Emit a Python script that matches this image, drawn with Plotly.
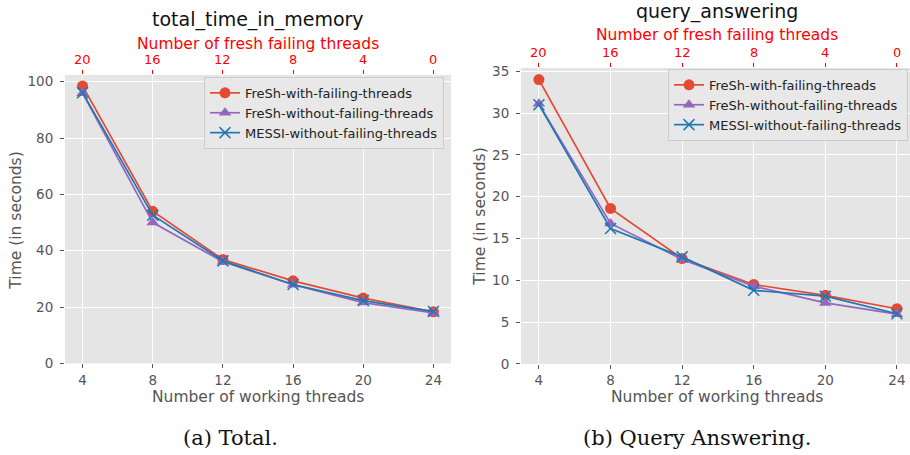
import plotly.graph_objects as go

# Working threads (bottom axis) and fresh failing threads (top axis)
working_threads = [4, 8, 12, 16, 20, 24]
failing_threads = ["20", "16", "12", "8", "4", "0"]

series_names = [
    "FreSh-with-failing-threads",
    "FreSh-without-failing-threads",
    "MESSI-without-failing-threads",
]

# total_time_in_memory (seconds)
total_fresh_failing = [98.5, 54.0, 36.9, 29.3, 23.2, 18.3]
total_fresh_clean = [95.9, 50.0, 36.1, 27.9, 21.6, 17.9]
total_messi_clean = [96.1, 52.6, 36.4, 28.0, 22.3, 18.4]

# query_answering (seconds)
query_fresh_failing = [34.0, 18.6, 12.6, 9.5, 8.2, 6.6]
query_fresh_clean = [31.1, 16.8, 12.5, 9.3, 7.3, 5.95]
query_messi_clean = [31.0, 16.2, 12.8, 8.8, 8.1, 6.0]

COLORS = ["#E24A33", "#9467BD", "#1F77B4"]
SYMBOLS = ["circle", "triangle-up", "x-thin"]
FONT = "DejaVu Sans"
GRAY = "#555555"
RED = "#FF0000"

W, H = 910, 455


def px_x(x):
    return x / W


def px_y(y):
    # vertical layout positions, in pixels from the top
    y = (y - 3) / 0.973
    return 1 - y / H


fig = go.Figure()

panels = [
    dict(series=[total_fresh_failing, total_fresh_clean, total_messi_clean],
         xa="x", ya="y", top="x3", legend="legend", top_label_y=58),
    dict(series=[query_fresh_failing, query_fresh_clean, query_messi_clean],
         xa="x2", ya="y2", top="x4", legend="legend2", top_label_y=51),
]

for p in panels:
    for name, vals, color, sym in zip(series_names, p["series"], COLORS, SYMBOLS):
        marker = dict(symbol=sym, size=11, color=color)
        if sym == "x-thin":
            marker["line"] = dict(color=color, width=1.5)
            marker["size"] = 11
        fig.add_trace(go.Scatter(
            x=working_threads, y=vals, name=name, mode="lines+markers",
            line=dict(color=color, width=1.7), marker=marker,
            xaxis=p["xa"], yaxis=p["ya"], legend=p["legend"],
        ))
    # carrier trace so the top (failing threads) axis is drawn
    fig.add_trace(go.Scatter(
        x=working_threads, y=p["series"][0], mode="markers",
        marker=dict(opacity=0), showlegend=False, hoverinfo="skip",
        xaxis=p["top"], yaxis=p["ya"],
    ))
    # top tick labels: fresh failing threads at each working-thread count
    for pos, lab in zip(working_threads, failing_threads):
        fig.add_annotation(
            x=pos, xref=p["xa"], y=px_y(p["top_label_y"]), yref="paper",
            text=lab, showarrow=False, xanchor="center", yanchor="middle",
            font=dict(family=FONT, size=13, color=RED),
        )

common_x = dict(
    tickvals=working_threads, showgrid=True, gridcolor="white", gridwidth=1,
    zeroline=False, ticks="outside", ticklen=4, tickcolor=GRAY,
    tickfont=dict(family=FONT, size=13.5, color=GRAY), showline=False,
)
common_y = dict(
    showgrid=True, gridcolor="white", gridwidth=1, zeroline=False,
    ticks="outside", ticklen=4, tickcolor=GRAY, ticklabelstandoff=4,
    tickfont=dict(family=FONT, size=13.5, color=GRAY), showline=False,
)
top_x = dict(
    side="top", tickvals=working_threads, showticklabels=False,
    showgrid=False, zeroline=False, ticks="outside", ticklen=4, tickcolor=RED,
    showline=False,
)

left_dom = [px_x(65), px_x(451)]
right_dom = [px_x(521), 1.0]
left_ydom = [px_y(362), px_y(73)]
right_ydom = [px_y(362.5), px_y(66)]

fig.update_layout(
    width=W, height=H, autosize=False, margin=dict(l=0, r=0, t=0, b=0),
    paper_bgcolor="white", plot_bgcolor="#E5E5E5",
    font=dict(family=FONT, color=GRAY),
    xaxis=dict(domain=left_dom, anchor="y", range=[3, 25], **common_x),
    yaxis=dict(domain=left_ydom, anchor="x", range=[0, 102.4],
               tickvals=[0, 20, 40, 60, 80, 100], **common_y),
    xaxis2=dict(domain=right_dom, anchor="y2", range=[3, 24.73], **common_x),
    yaxis2=dict(domain=right_ydom, anchor="x2", range=[0, 35.4],
                tickvals=[0, 5, 10, 15, 20, 25, 30, 35], **common_y),
    xaxis3=dict(overlaying="x", anchor="y", range=[3, 25], **top_x),
    xaxis4=dict(overlaying="x2", anchor="y2", range=[3, 24.73], **top_x),
    legend=dict(
        x=px_x(444), y=px_y(75), xanchor="right", yanchor="top",
        bgcolor="#E8E8E8", bordercolor="#CCCCCC", borderwidth=1,
        font=dict(family=FONT, size=13, color="#222222"), tracegroupgap=0,
    ),
    legend2=dict(
        x=px_x(908), y=px_y(67), xanchor="right", yanchor="top",
        bgcolor="#E8E8E8", bordercolor="#CCCCCC", borderwidth=1,
        font=dict(family=FONT, size=13, color="#222222"), tracegroupgap=0,
    ),
    showlegend=True,
)


def text(x, y, s, size, color, family=FONT, angle=0):
    fig.add_annotation(
        x=px_x(x), y=px_y(y), xref="paper", yref="paper", text=s,
        showarrow=False, xanchor="center", yanchor="middle", textangle=angle,
        font=dict(family=family, size=size, color=color),
    )


# panel titles
text(258, 18, "total_time_in_memory", 19, "#111111")
text(717, 10, "query_answering", 19, "#111111")
# top axis titles
text(258, 42, "Number of fresh failing threads", 15.5, RED)
text(717, 33, "Number of fresh failing threads", 15.5, RED)
# bottom axis titles
text(258, 396, "Number of working threads", 15.5, GRAY)
text(717, 396, "Number of working threads", 15.5, GRAY)
# y axis titles
text(16, 219, "Time (in seconds)", 15.5, GRAY, angle=-90)
text(480, 215, "Time (in seconds)", 15.5, GRAY, angle=-90)
# captions
text(230, 437, "(a) Total.", 21, "#111111", family="DejaVu Serif")
text(697, 437, "(b) Query Answering.", 21, "#111111", family="DejaVu Serif")

fig.write_html("out.html", config={"responsive": False})
